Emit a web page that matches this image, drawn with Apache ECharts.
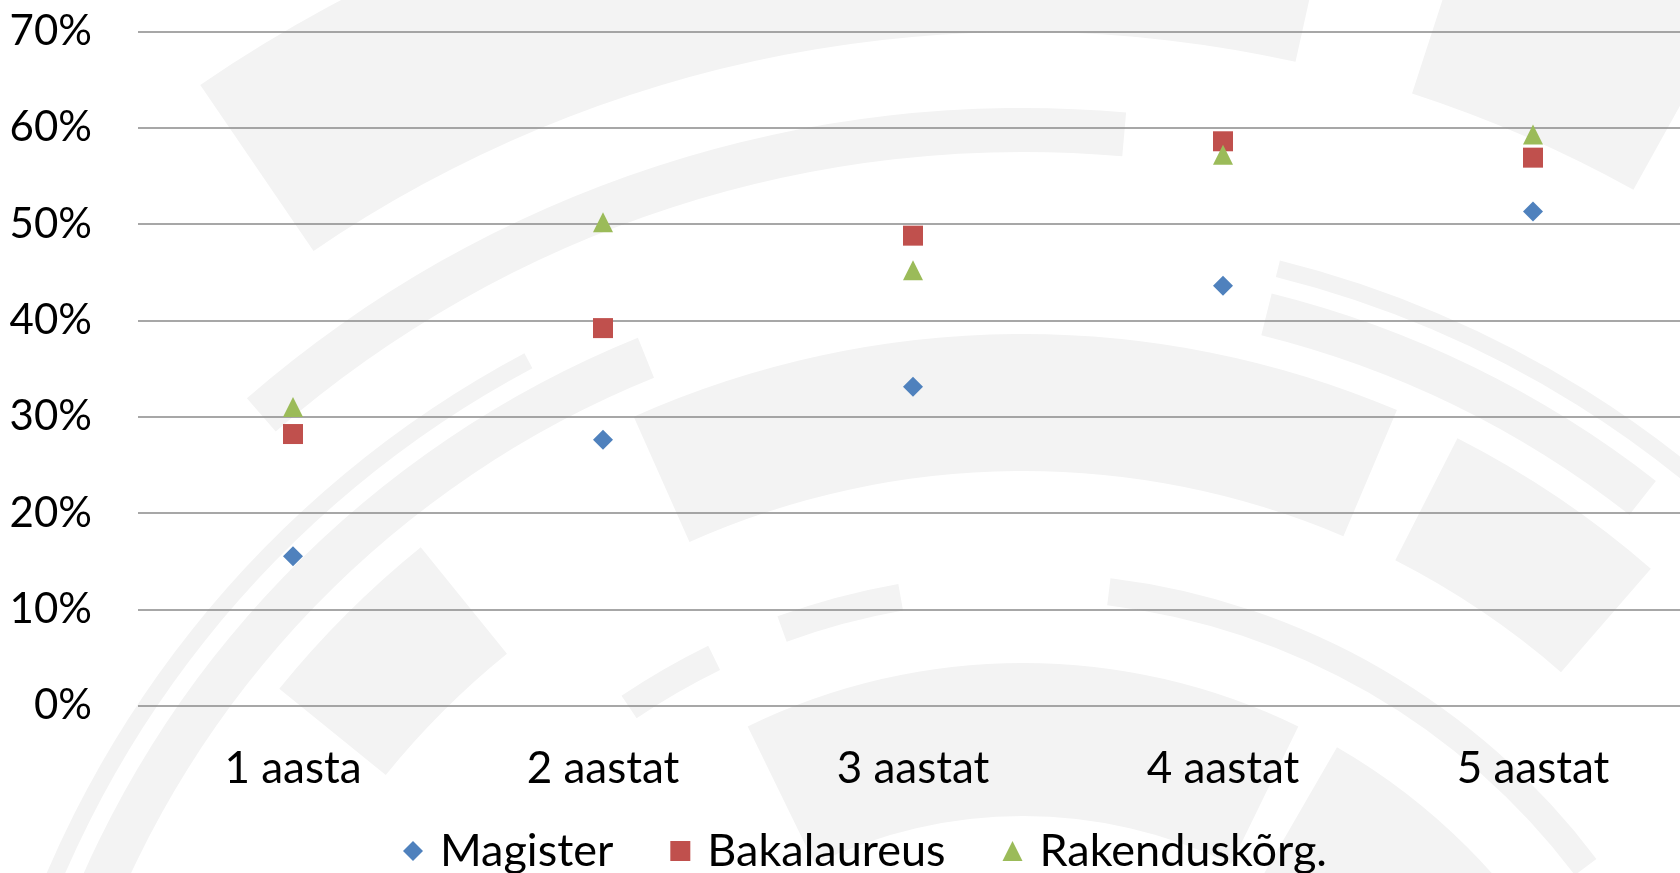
<!DOCTYPE html>
<html>
<head>
<meta charset="utf-8">
<title>Scatter</title>
<script src="https://cdn.jsdelivr.net/npm/echarts@6/dist/echarts.min.js"></script>
<style>
  html, body { margin: 0; padding: 0; background: #fff; }
  #chart { width: 1680px; height: 873px; }
</style>
</head>
<body>
<div id="chart"></div>
<script>
// andmed
const categories = ['1 aasta', '2 aastat', '3 aastat', '4 aastat', '5 aastat']
const magister = [15.5, 27.6, 33.1, 43.6, 51.3]
const bakalaureus = [28.2, 39.2, 48.8, 58.6, 56.9]
const rakendus = [31.0, 50.2, 45.2, 57.2, 59.3]
const yTicks = [0, 10, 20, 30, 40, 50, 60, 70]

const font = 'Lato'
const chart = echarts.init(document.getElementById('chart'))

// taustapildi kaared (ainult kaunistus): [r0, r, algnurk, lõppnurk]
const bgCenter = [1023, 1291]
const bgArcs = [
  [1259, 1460, 77.5, 124.3],
  [1259, 1460, 61, 72],
  [1139, 1183, 85, 131],
  [1045, 1062, 40, 76],
  [985, 1028, 52, 76],
  [985, 1028, 112, 160],
  [1045, 1062, 118, 165],
  [820, 957, 49, 63],
  [820, 957, 67, 114],
  [820, 957, 129, 141],
  [691, 718, 37, 83],
  [691, 718, 100, 110],
  [691, 718, 116, 124],
  [475, 628, 64, 116],
  [475, 628, 30, 60]
]
const rad = (d) => d * Math.PI / 180

const mk = (name, data, symbol, size, color) => ({
  name: name,
  type: 'scatter',
  data: data,
  symbol: symbol,
  symbolSize: size,
  itemStyle: { color: color, opacity: 1 },
  emphasis: { disabled: true }
})

const option = {
  animation: false,
  graphic: bgArcs.map(a => ({
    type: 'sector',
    silent: true,
    z: -10,
    shape: {
      cx: bgCenter[0], cy: bgCenter[1],
      r0: a[0], r: a[1],
      startAngle: -rad(a[3]), endAngle: -rad(a[2]),
      clockwise: true
    },
    style: { fill: '#f3f3f3' }
  })),
  grid: { left: 138, width: 1550, top: 31.5, bottom: 167.4, outerBoundsMode: 'none' },
  xAxis: {
    type: 'category',
    data: categories,
    boundaryGap: true,
    axisLine: { show: false },
    axisTick: { show: false },
    axisLabel: { color: '#000', fontFamily: font, fontSize: 44, lineHeight: 44, margin: 41 }
  },
  yAxis: {
    type: 'value',
    min: yTicks[0],
    max: yTicks[yTicks.length - 1],
    interval: 10,
    axisLine: { show: false },
    axisTick: { show: false },
    axisLabel: { color: '#000', fontFamily: font, fontSize: 42, margin: 46, formatter: '{value}%' },
    splitLine: { lineStyle: { color: '#8a8a8a', width: 1.5 } }
  },
  legend: {
    left: 398,
    top: 822,
    itemWidth: 20,
    itemHeight: 20,
    itemGap: 57,
    textStyle: { color: '#000', fontFamily: font, fontSize: 45, lineHeight: 48, padding: [0, 0, 0, 12] },
    data: ['Magister', 'Bakalaureus', 'Rakenduskõrg.']
  },
  series: [
    mk('Magister', magister, 'diamond', 20, '#4F81BD'),
    mk('Bakalaureus', bakalaureus, 'rect', 20, '#C0504D'),
    mk('Rakenduskõrg.', rakendus, 'triangle', 20, '#9BBB59')
  ]
}

chart.setOption(option)
</script>
</body>
</html>
